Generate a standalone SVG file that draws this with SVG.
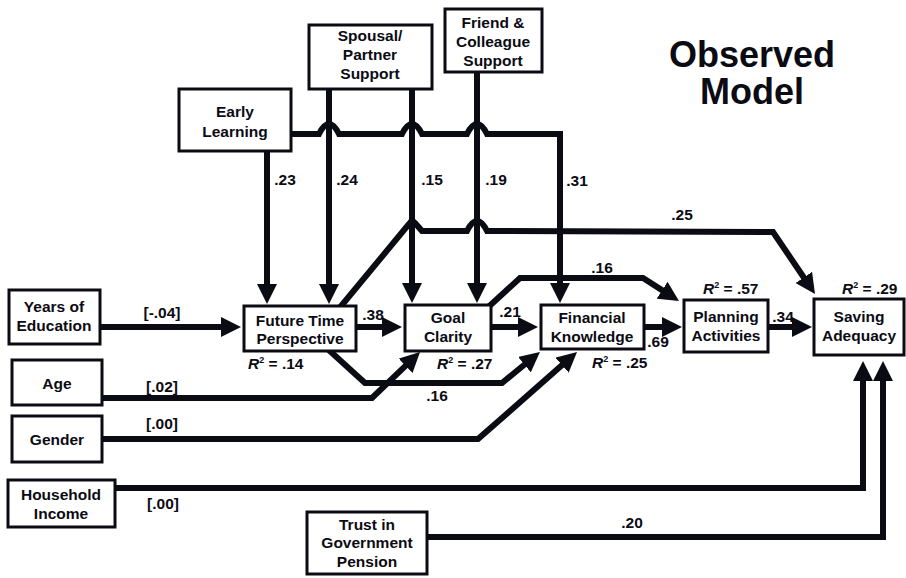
<svg xmlns="http://www.w3.org/2000/svg" width="906" height="578" viewBox="0 0 906 578">
<style>
text{font-family:"Liberation Sans",Arial,sans-serif;font-weight:bold;font-size:15.5px;fill:#0b0b14}
.n{text-anchor:middle}
.t{font-size:36px;text-anchor:middle}
rect{fill:#fff;stroke:#0b0b14;stroke-width:3}
.c path{fill:none;stroke:#0b0b14;stroke-width:6;stroke-linejoin:miter;stroke-miterlimit:10}
.a{marker-end:url(#ah)}
</style>
<defs>
<marker id="ah" markerUnits="userSpaceOnUse" viewBox="0 0 20 20" markerWidth="20" markerHeight="20" refX="10" refY="10" orient="auto">
<path d="M0,0 L20,10 L0,20 z" fill="#0b0b14"/>
</marker>
</defs>
<rect width="906" height="578" style="fill:#fff;stroke:none"/>
<g class="c" id="connectors">
<path class="a" d="M267,151 L267,294"/>
<path class="a" d="M329,89 L329,294"/>
<path class="a" d="M412,89 L412,293"/>
<path class="a" d="M477,72 L477,293"/>
<path class="a" d="M291,134 L319,134 Q329,114 339,134 L402,134 Q412,114 422,134 L467,134 Q477,114 487,134 L560,134 L560,293"/>
<path class="a" d="M337,311 L409,224 Q412,219 415,223 L422,231 L467,231 Q477,211 487,231 L773,232 L809.4,285.7"/>
<path class="a" d="M484,311 L520,278 L643,278 L670.6,295.6"/>
<path class="a" d="M100,327 L231,327"/>
<path class="a" d="M356,327 L392,327"/>
<path class="a" d="M491,327 L528,327"/>
<path class="a" d="M644,327 L672,327"/>
<path class="a" d="M768,327 L802,327"/>
<path class="a" d="M320,342 L365,383 L502,383 L532.2,358.3"/>
<path class="a" d="M102,398 L372,398 L412.8,358.9"/>
<path class="a" d="M102,439 L478,439 L569.5,358.6"/>
<path class="a" d="M115,488 L863,488 L863,371"/>
<path class="a" d="M427,537 L883,537 L883,371"/>
</g>
<g id="labels">
<text x="285" y="185" class="n">.23</text>
<text x="347" y="185" class="n">.24</text>
<text x="432" y="185" class="n">.15</text>
<text x="496" y="185" class="n">.19</text>
<text x="577" y="186" class="n">.31</text>
<text x="682" y="220" class="n">.25</text>
<text x="602" y="273" class="n">.16</text>
<text x="162" y="318" class="n">[-.04]</text>
<text x="373" y="320" class="n">.38</text>
<text x="510" y="317" class="n">.21</text>
<text x="658" y="347" class="n">.69</text>
<text x="783" y="322" class="n">.34</text>
<text x="437" y="401" class="n">.16</text>
<text x="162" y="392" class="n">[.02]</text>
<text x="162" y="429" class="n">[.00]</text>
<text x="163" y="509" class="n">[.00]</text>
<text x="632" y="528" class="n">.20</text>
<text x="248" y="369"><tspan font-style="italic">R</tspan><tspan font-size="9" dy="-6">2</tspan><tspan dy="6"> = .14</tspan></text>
<text x="437" y="369"><tspan font-style="italic">R</tspan><tspan font-size="9" dy="-6">2</tspan><tspan dy="6"> = .27</tspan></text>
<text x="592" y="368"><tspan font-style="italic">R</tspan><tspan font-size="9" dy="-6">2</tspan><tspan dy="6"> = .25</tspan></text>
<text x="703" y="294"><tspan font-style="italic">R</tspan><tspan font-size="9" dy="-6">2</tspan><tspan dy="6"> = .57</tspan></text>
<text x="842" y="294"><tspan font-style="italic">R</tspan><tspan font-size="9" dy="-6">2</tspan><tspan dy="6"> = .29</tspan></text>
<text x="752" y="67" class="t">Observed</text>
<text x="752" y="104" class="t">Model</text>
</g>
<g id="early-learning"><rect x="179" y="89" width="112" height="62"/><text x="235" y="117" class="n">Early</text><text x="235" y="137" class="n">Learning</text></g>
<g id="spousal"><rect x="309" y="25" width="123" height="64"/><text x="370" y="41" class="n">Spousal/</text><text x="370" y="60" class="n">Partner</text><text x="370" y="79" class="n">Support</text></g>
<g id="friend"><rect x="445" y="9" width="97" height="63"/><text x="493" y="28" class="n">Friend &amp;</text><text x="493" y="47" class="n">Colleague</text><text x="493" y="66" class="n">Support</text></g>
<g id="years-education"><rect x="9" y="290" width="91" height="54"/><text x="54" y="312" class="n">Years of</text><text x="54" y="331" class="n">Education</text></g>
<g id="future-time"><rect x="244" y="306" width="112" height="45"/><text x="300" y="326" class="n">Future Time</text><text x="300" y="344" class="n">Perspective</text></g>
<g id="age"><rect x="12" y="360" width="90" height="45"/><text x="57" y="389" class="n">Age</text></g>
<g id="gender"><rect x="12" y="416" width="90" height="46"/><text x="57" y="445" class="n">Gender</text></g>
<g id="goal-clarity"><rect x="405" y="305" width="86" height="46"/><text x="448" y="323" class="n">Goal</text><text x="448" y="342" class="n">Clarity</text></g>
<g id="financial-knowledge"><rect x="541" y="305" width="103" height="44"/><text x="592" y="323" class="n">Financial</text><text x="592" y="342" class="n">Knowledge</text></g>
<g id="planning"><rect x="684" y="300" width="84" height="52"/><text x="726" y="322" class="n">Planning</text><text x="726" y="341" class="n">Activities</text></g>
<g id="saving"><rect x="814" y="299" width="90" height="56"/><text x="859" y="322" class="n">Saving</text><text x="859" y="341" class="n">Adequacy</text></g>
<g id="household-income"><rect x="8" y="480" width="107" height="47"/><text x="61" y="500" class="n">Household</text><text x="61" y="519" class="n">Income</text></g>
<g id="trust"><rect x="307" y="512" width="120" height="62"/><text x="367" y="530" class="n">Trust in</text><text x="367" y="548" class="n">Government</text><text x="367" y="567" class="n">Pension</text></g>
</svg>
